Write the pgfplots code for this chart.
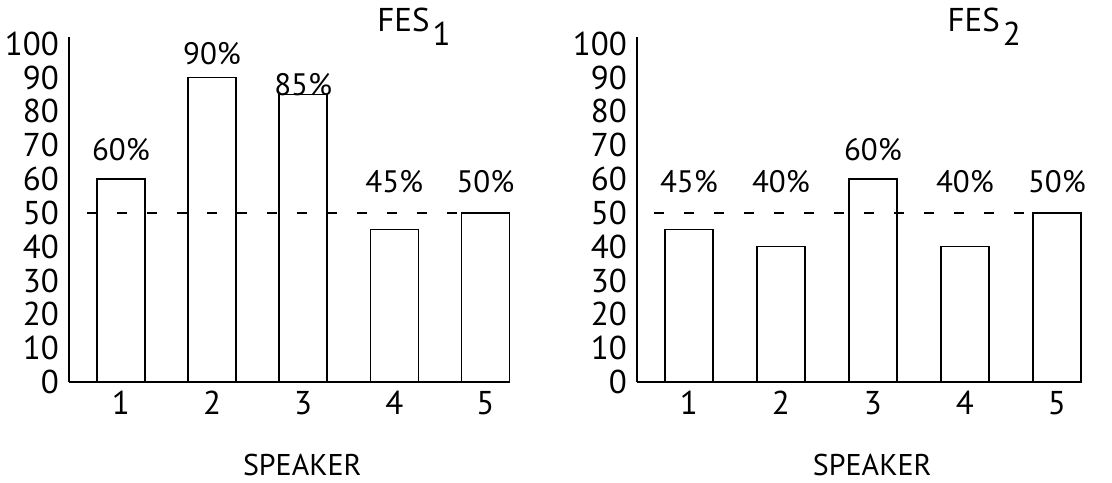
\documentclass[border=0pt]{standalone}
\usepackage{pgfplots}
\pgfplotsset{compat=1.18}
\usepackage{fontspec}
\setmainfont{PT Sans}

\pgfplotsset{
  fes/.style={
    scale only axis,
    anchor=south west,
    height=172.5pt,
    ymin=0, ymax=102,
    axis x line*=bottom,
    axis y line*=left,
    axis line style={line width=1.1pt, -},
    ytick={0,10,...,100},
    xtick={1,2,3,4,5},
    major tick length=0pt,
    /pgf/number format/assume math mode=true,
    tick label style={font=\fontsize{16.5}{18}\selectfont},
    yticklabel style={anchor=east, xshift=-1.5pt},
    xticklabel style={yshift=-1pt},
    every axis title shift=0pt,
    title style={anchor=base west, font=\fontsize{16.5}{18}\selectfont},
    xlabel style={anchor=base, font=\fontsize{15}{17}\selectfont},
    clip=false,
  },
  fesbar/.style={ybar, bar width=24pt, bar shift=0pt, draw=black, fill=white, line width=0.7pt},
  chance/.style={line width=1.1pt, dash pattern=on 5pt off 10pt, mark=none},
  pct/.style={draw=none, mark=none, nodes near coords, point meta=explicit symbolic,
    every node near coord/.append style={anchor=center, inner sep=0pt,
      font=\fontsize{15.5}{17}\selectfont}},
}

\begin{document}
\begin{tikzpicture}
  \useasboundingbox (0,0) rectangle (556pt,241pt);

  % FES 1
  \begin{axis}[fes, at={(34.5pt,50pt)}, width=220.5pt,
      xmin=0.43, xmax=5.27,
      title={FES\hspace{1.5pt}\raisebox{-7pt}{1}},
      title style={at={(0.683,1.016)}},
      xlabel={SPEAKER},
      xlabel style={at={(0.529,-0.27)}}]
    \addplot[fesbar] coordinates {(1,60) (2,90) (3,85) (4,45) (5,50)};
    \addplot[chance] coordinates {(0.63,50) (5.27,50)};
    \addplot[pct] coordinates {
      (1,68.6) [60\%] (2,97.2) [90\%] (3,87.9) [85\%] (4,59.2) [45\%] (5,59.2) [50\%]
    };
  \end{axis}

  % FES 2
  \begin{axis}[fes, at={(318.5pt,50pt)}, width=215pt,
      xmin=0.435, xmax=5.11,
      title={FES\hspace{1.5pt}\raisebox{-7pt}{2}},
      title style={at={(0.706,1.016)}},
      xlabel={SPEAKER},
      xlabel style={at={(0.547,-0.27)}}]
    \addplot[fesbar] coordinates {(1,45) (2,40) (3,60) (4,40) (5,50)};
    \addplot[chance] coordinates {(0.62,50) (5.25,50)};
    \addplot[pct] coordinates {
      (1,59.2) [45\%] (2,59.2) [40\%] (3,68.6) [60\%] (4,59.2) [40\%] (5,59.2) [50\%]
    };
  \end{axis}
\end{tikzpicture}
\end{document}
